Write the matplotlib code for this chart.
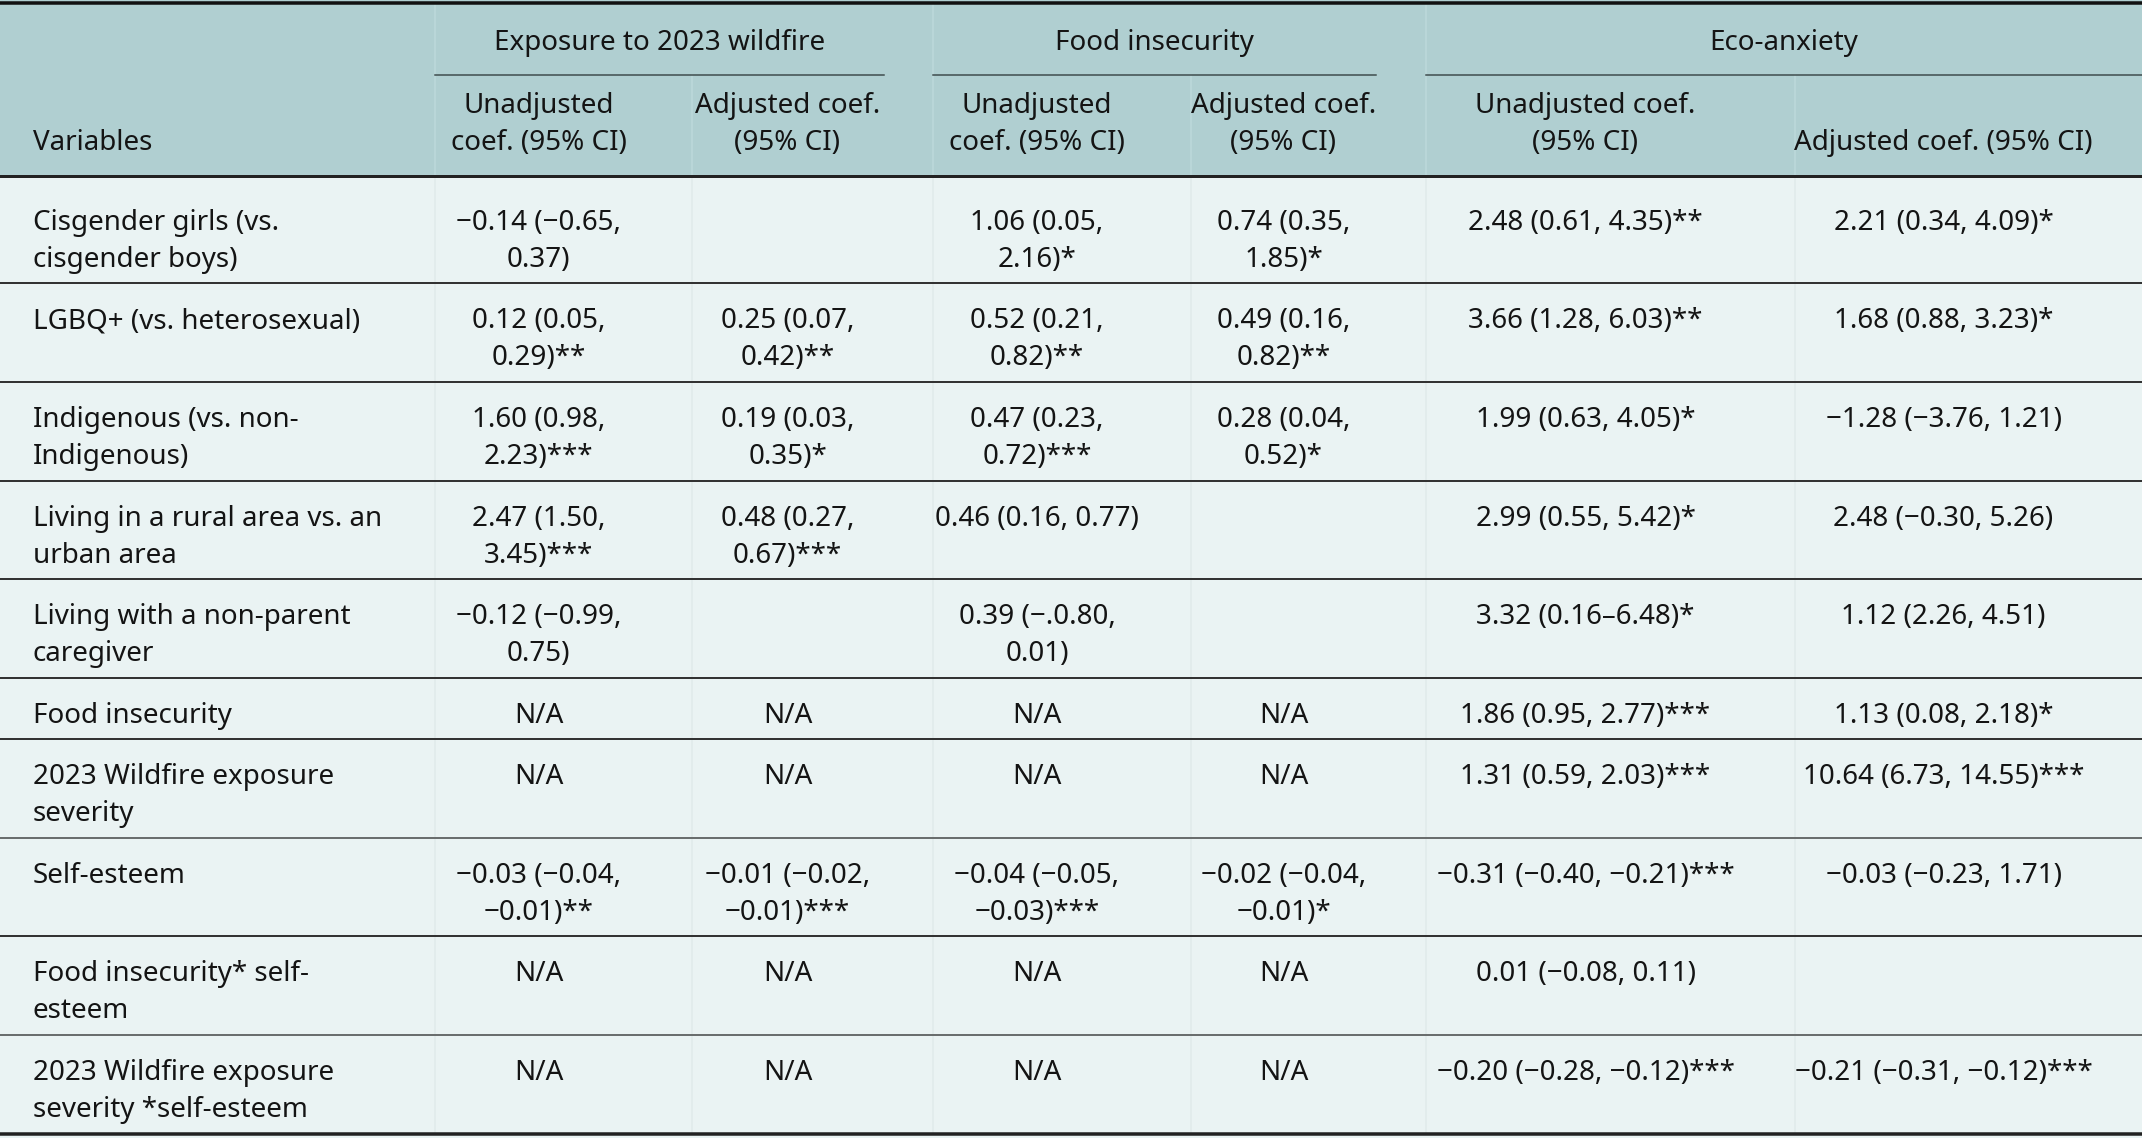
import matplotlib
matplotlib.use("Agg")
import matplotlib.pyplot as plt
from matplotlib.patches import Rectangle

plt.rcParams['font.family'] = ['Noto Sans', 'DejaVu Sans']

# ---------------------------------------------------------------
# table content
# ---------------------------------------------------------------
groups = ["Exposure to 2023 wildfire", "Food insecurity", "Eco-anxiety"]

subheads = ["Variables",
            "Unadjusted\ncoef. (95% CI)", "Adjusted coef.\n(95% CI)",
            "Unadjusted\ncoef. (95% CI)", "Adjusted coef.\n(95% CI)",
            "Unadjusted coef.\n(95% CI)", "Adjusted coef. (95% CI)"]

variables = ["Cisgender girls (vs.\ncisgender boys)",
             "LGBQ+ (vs. heterosexual)",
             "Indigenous (vs. non-\nIndigenous)",
             "Living in a rural area vs. an\nurban area",
             "Living with a non-parent\ncaregiver",
             "Food insecurity",
             "2023 Wildfire exposure\nseverity",
             "Self-esteem",
             "Food insecurity* self-\nesteem",
             "2023 Wildfire exposure\nseverity *self-esteem"]

wild_unadj = ["\u22120.14 (\u22120.65,\n0.37)", "0.12 (0.05,\n0.29)**", "1.60 (0.98,\n2.23)***",
              "2.47 (1.50,\n3.45)***", "\u22120.12 (\u22120.99,\n0.75)", "N/A", "N/A",
              "\u22120.03 (\u22120.04,\n\u22120.01)**", "N/A", "N/A"]
wild_adj = ["", "0.25 (0.07,\n0.42)**", "0.19 (0.03,\n0.35)*", "0.48 (0.27,\n0.67)***", "",
            "N/A", "N/A", "\u22120.01 (\u22120.02,\n\u22120.01)***", "N/A", "N/A"]
food_unadj = ["1.06 (0.05,\n2.16)*", "0.52 (0.21,\n0.82)**", "0.47 (0.23,\n0.72)***",
              "0.46 (0.16, 0.77)", "0.39 (\u2212.0.80,\n0.01)", "N/A", "N/A",
              "\u22120.04 (\u22120.05,\n\u22120.03)***", "N/A", "N/A"]
food_adj = ["0.74 (0.35,\n1.85)*", "0.49 (0.16,\n0.82)**", "0.28 (0.04,\n0.52)*", "", "",
            "N/A", "N/A", "\u22120.02 (\u22120.04,\n\u22120.01)*", "N/A", "N/A"]
eco_unadj = ["2.48 (0.61, 4.35)**", "3.66 (1.28, 6.03)**", "1.99 (0.63, 4.05)*",
             "2.99 (0.55, 5.42)*", "3.32 (0.16\u20136.48)*", "1.86 (0.95, 2.77)***",
             "1.31 (0.59, 2.03)***", "\u22120.31 (\u22120.40, \u22120.21)***",
             "0.01 (\u22120.08, 0.11)", "\u22120.20 (\u22120.28, \u22120.12)***"]
eco_adj = ["2.21 (0.34, 4.09)*", "1.68 (0.88, 3.23)*", "\u22121.28 (\u22123.76, 1.21)",
           "2.48 (\u22120.30, 5.26)", "1.12 (2.26, 4.51)", "1.13 (0.08, 2.18)*",
           "10.64 (6.73, 14.55)***", "\u22120.03 (\u22120.23, 1.71)", "",
           "\u22120.21 (\u22120.31, \u22120.12)***"]

columns = [wild_unadj, wild_adj, food_unadj, food_adj, eco_unadj, eco_adj]

# ---------------------------------------------------------------
# layout (pixels)
# ---------------------------------------------------------------
W, H = 2142, 1138
col_edges = [0, 435, 692, 933, 1191, 1426, 1795, W]
row_edges = [176, 283, 382, 481, 579, 678, 739, 838, 936, 1035, 1134]
group_spans = [(435, 884), (933, 1376), (1426, W)]
line_h = 37
fs = 20
txt = '#141414'
head_bg = '#b0cfd1'
body_bg = '#eaf3f3'

fig = plt.figure(figsize=(W / 100, H / 100), dpi=100)
ax = fig.add_axes([0, 0, 1, 1])
ax.set_xlim(0, W)
ax.set_ylim(H, 0)
ax.axis('off')

px = 0.72  # one pixel in points

ax.add_patch(Rectangle((0, 0), W, row_edges[0], color=head_bg, zorder=0))
ax.add_patch(Rectangle((0, row_edges[0]), W, H - row_edges[0], color=body_bg, zorder=0))


def put(x, y_first, s, ha='center'):
    # y_first = visual centre of first line
    for i, line in enumerate(s.split('\n')):
        ax.text(x, y_first + i * line_h + 10, line, ha=ha, va='baseline',
                fontsize=fs, color=txt, zorder=3)


# faint column separators
for x in col_edges[1:-1]:
    y0 = 3 if x in (435, 933, 1426) else 75
    ax.plot([x, x], [y0, row_edges[0]], color='#bcd9db', lw=1.5 * px, zorder=1)
    ax.plot([x, x], [row_edges[0], row_edges[-1]], color='#e0eaea', lw=1.5 * px, zorder=1)

# group headers + underlines
for name, (a, b) in zip(groups, group_spans):
    put((a + b) / 2, 40, name)
    ax.plot([a, b], [75, 75], color='#3d4a4b', lw=1.5 * px, zorder=2)

# sub headers (bottom aligned)
for j, s in enumerate(subheads):
    n = s.count('\n')
    if j == 0:
        put(33, 140, s, ha='left')
    else:
        cx = (col_edges[j] + col_edges[j + 1]) / 2 - 25
        put(cx, 140 - n * line_h, s)

# body
for i, lab in enumerate(variables):
    top = row_edges[i]
    yc = top + (44 if i == 0 else 35)
    put(33, yc, lab, ha='left')
    for j, col in enumerate(columns):
        cx = (col_edges[j + 1] + col_edges[j + 2]) / 2 - 25
        if col[i]:
            put(cx, yc, col[i])

# horizontal rules
ax.plot([0, W], [2.5, 2.5], color='#111111', lw=3.5 * px, zorder=4)
ax.plot([0, W], [row_edges[0], row_edges[0]], color='#222222', lw=3 * px, zorder=4)
for k, y in enumerate(row_edges[1:-1], start=1):
    c = '#6a6e6e' if k in (7, 9) else '#333333'
    ax.plot([0, W], [y, y], color=c, lw=2 * px, zorder=4)
ax.plot([0, W], [row_edges[-1], row_edges[-1]], color='#222222', lw=3.5 * px, zorder=4)

fig.savefig('out.png', dpi=100, facecolor='white')
